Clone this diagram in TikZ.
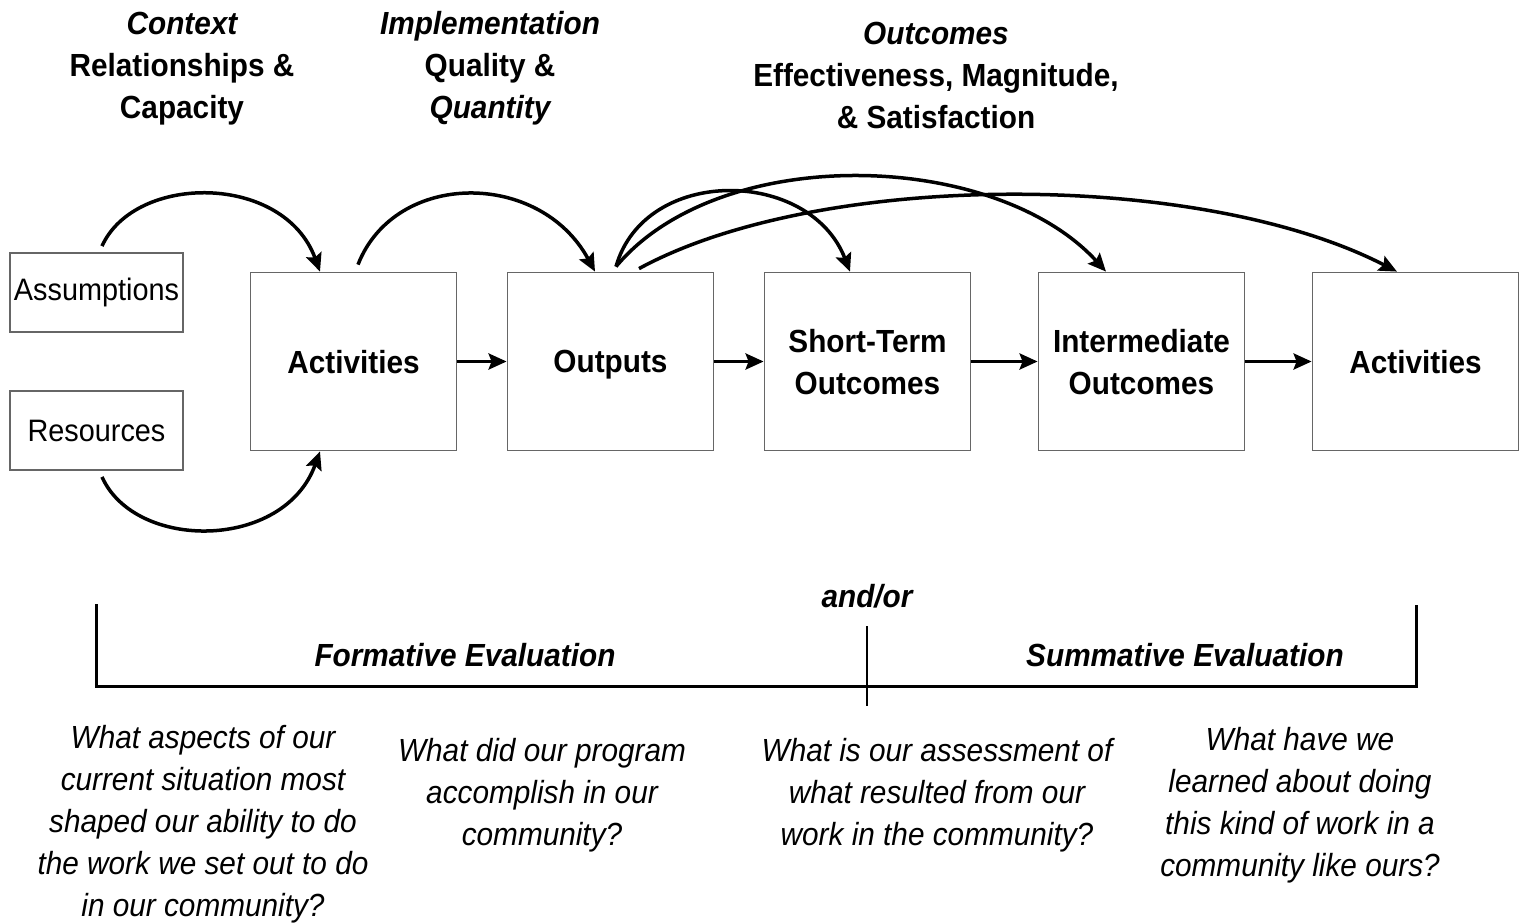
\documentclass[tikz,border=0pt]{standalone}
\usepackage{fontspec}
\setmainfont{Liberation Sans}[FakeStretch=0.93]
\usetikzlibrary{arrows.meta}
\begin{document}
\begin{tikzpicture}[x=1pt,y=-1pt,
  stagebox/.style={draw=black!60, line width=1.8pt, minimum width=206pt,
    minimum height=178pt, inner sep=0pt, align=center, text depth=0pt,
    font=\bfseries\fontsize{32}{42}\selectfont},
  inputbox/.style={draw=black!60, line width=1.8pt, minimum width=173pt,
    minimum height=79pt, inner sep=0pt,
    font=\fontsize{31}{40}\selectfont},
  flow/.style={line width=3.5pt, -{Stealth[length=18pt,width=16pt,inset=3pt]}},
  headtxt/.style={align=center, inner sep=0pt, font=\bfseries\fontsize{32}{42}\selectfont},
  evaltxt/.style={inner sep=0pt, font=\bfseries\itshape\fontsize{32}{42}\selectfont},
  asktxt/.style={align=center, inner sep=0pt, font=\itshape\fontsize{32}{42}\selectfont},
  bracket/.style={line width=3pt, line cap=rect}
]
\useasboundingbox (0,0) rectangle (1519,922);

% headings over the chain
\node[headtxt] (hctx) at (182,68.5) {\itshape Context\\Relationships \&\\Capacity};
\node[headtxt] (himp) at (490,68.5) {\itshape Implementation\\Quality \&\\\itshape Quantity};
\node[headtxt] (hout) at (936,75) {\itshape Outcomes\\Effectiveness, Magnitude,\\\& Satisfaction};

% inputs and stages
\node[inputbox] (assum) at (96.5,292.5) {Assumptions};
\node[inputbox] (resrc) at (96.5,430.5) {Resources};
\node[stagebox] (act)   at (353.5,361.5) {Activities};
\node[stagebox] (outp)  at (610.5,361.5) {Outputs};
\node[stagebox] (short) at (867.5,361.5) {Short-Term\\Outcomes};
\node[stagebox] (inter) at (1141.5,361.5) {Intermediate\\Outcomes};
\node[stagebox] (act2)  at (1415.5,361.5) {Activities};

% straight links along the chain
\draw[flow] (act.east) -- (outp.west);
\draw[flow] (outp.east) -- (short.west);
\draw[flow] (short.east) -- (inter.west);
\draw[flow] (inter.east) -- (act2.west);

% arcs feeding the activities
\draw[flow] ([xshift=5.5pt,yshift=6pt]assum.north)
  .. controls (135,173) and (284,173) .. ([xshift=-33.5pt]act.north);
\draw[flow] ([xshift=5.5pt,yshift=-6pt]resrc.south)
  .. controls (135,551) and (284,551) .. ([xshift=-33.5pt]act.south);
\draw[flow] ([xshift=4.5pt,yshift=7pt]act.north)
  .. controls (395,170) and (540,170) .. ([xshift=-15.5pt]outp.north);

% arcs from the outputs to later stages
\draw[flow] ([xshift=5.5pt,yshift=5pt]outp.north)
  .. controls (645,165) and (810,168) .. ([xshift=-17.5pt]short.north);
\draw[flow] ([xshift=5.5pt,yshift=5pt]outp.north)
  .. controls (720,142) and (995,150) .. ([xshift=-35.5pt]inter.north);
\draw[flow] ([xshift=28.5pt,yshift=3pt]outp.north)
  .. controls (820,170) and (1200,170) .. ([xshift=-18.5pt]act2.north);

% evaluation bracket
\coordinate (bl) at (96,605);
\coordinate (br) at (1416,606);
\coordinate (bm) at (867,626);
\draw[bracket] (bl) -- (96,686) -- (1416,686) -- (br);
\draw[line width=2.5pt] (bm) -- (867,706);
\node[evaltxt] (andor) at (867,596) {and/or};
\node[evaltxt] (form) at (465,655) {Formative Evaluation};
\node[evaltxt] (summ) at (1185,655) {Summative Evaluation};

% guiding questions
\node[asktxt] (q1) at (203,824.5) {What aspects of our\\current situation most\\shaped our ability to do\\the work we set out to do\\in our community?};
\node[asktxt] (q2) at (542,795) {What did our program\\accomplish in our\\community?};
\node[asktxt] (q3) at (937,795) {What is our assessment of\\what resulted from our\\work in the community?};
\node[asktxt] (q4) at (1300,805) {What have we\\learned about doing\\this kind of work in a\\community like ours?};
\end{tikzpicture}
\end{document}
